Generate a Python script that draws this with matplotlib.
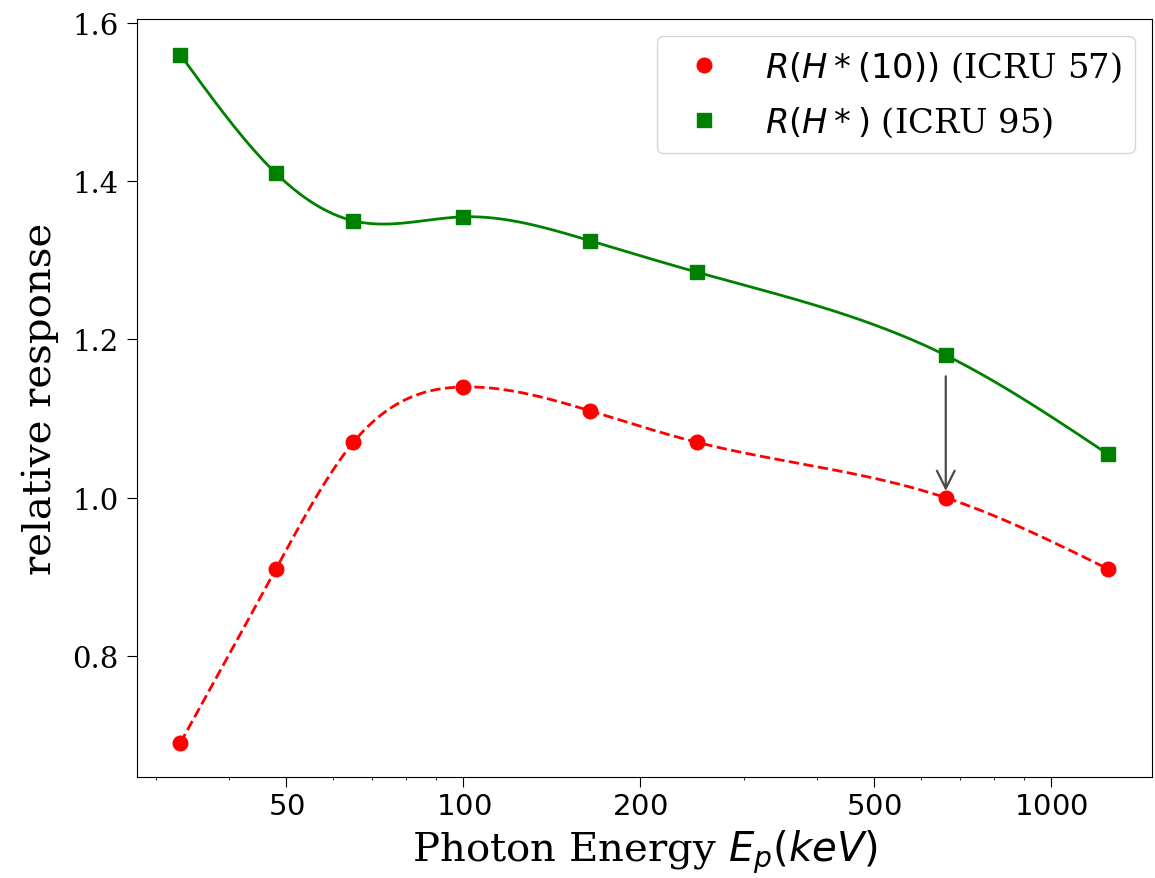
import numpy as np
import matplotlib
matplotlib.use("Agg")
import matplotlib.pyplot as plt

plt.rcParams['font.family'] = 'serif'
plt.rcParams['font.serif'] = ['DejaVu Serif']
plt.rcParams['mathtext.fontset'] = 'dejavusans'

# Photon energies (keV) and relative responses
energy = [33, 48, 65, 100, 164, 250, 662, 1250]
resp_icru57 = [0.69, 0.91, 1.07, 1.14, 1.11, 1.07, 1.00, 0.91]
resp_icru95 = [1.56, 1.41, 1.35, 1.355, 1.325, 1.285, 1.18, 1.055]
xtick_values = [50, 100, 200, 500, 1000]
ytick_values = [0.8, 1.0, 1.2, 1.4, 1.6]


def natural_spline(x, y, xs):
    """Natural cubic spline through (x, y), evaluated at xs."""
    x = np.asarray(x, float)
    y = np.asarray(y, float)
    n = len(x)
    h = np.diff(x)
    A = np.zeros((n, n))
    b = np.zeros(n)
    A[0, 0] = 1.0
    A[-1, -1] = 1.0
    for i in range(1, n - 1):
        A[i, i - 1] = h[i - 1]
        A[i, i] = 2 * (h[i - 1] + h[i])
        A[i, i + 1] = h[i]
        b[i] = 6 * ((y[i + 1] - y[i]) / h[i] - (y[i] - y[i - 1]) / h[i - 1])
    M = np.linalg.solve(A, b)
    idx = np.clip(np.searchsorted(x, xs) - 1, 0, n - 2)
    x0, x1 = x[idx], x[idx + 1]
    hh = x1 - x0
    t0 = x1 - xs
    t1 = xs - x0
    return (M[idx] * t0**3 / (6 * hh) + M[idx + 1] * t1**3 / (6 * hh)
            + (y[idx] / hh - M[idx] * hh / 6) * t0
            + (y[idx + 1] / hh - M[idx + 1] * hh / 6) * t1)


# smooth curves drawn in log-energy space
lx = np.log10(energy)
lxs = np.linspace(lx[0], lx[-1], 400)
xs = 10 ** lxs

fig, ax = plt.subplots(figsize=(11.55, 8.79), dpi=100)
fig.subplots_adjust(left=0.1186, right=0.9974, top=0.9772, bottom=0.1149)

ax.plot(xs, natural_spline(lx, resp_icru57, lxs), color='red', ls='--', lw=2)
ax.plot(xs, natural_spline(lx, resp_icru95, lxs), color='green', ls='-', lw=2)
ax.plot(energy, resp_icru57, 'o', color='red', ms=10.5,
        label=r'$R(H*(10))$ (ICRU 57)')
ax.plot(energy, resp_icru95, 's', color='green', ms=10,
        label=r'$R(H*)$ (ICRU 95)')

# arrow from the ICRU 95 to the ICRU 57 response at 662 keV
ax.annotate('', xy=(energy[6], 1.005), xytext=(energy[6], 1.157),
            arrowprops=dict(arrowstyle='->', color='#4a4a4a', lw=1.6,
                            mutation_scale=32))

ax.set_xscale('log')
ax.set_xlim(27.85, 1485)
ax.set_ylim(0.647, 1.605)
ax.set_xticks(xtick_values)
ax.set_xticklabels([rf'${v}$' for v in xtick_values])
ax.set_yticks(ytick_values)
ax.tick_params(axis='both', labelsize=21)
ax.tick_params(axis='both', which='major', length=7)
ax.tick_params(axis='y', pad=6)

ax.set_xlabel(r'Photon Energy $E_p(keV)$', fontsize=29, labelpad=6)
ax.set_ylabel('relative response', fontsize=29, labelpad=10)

ax.legend(loc='upper right', fontsize=24.3, handlelength=2.0,
          labelspacing=0.62)

fig.savefig('out.png', dpi=100)
